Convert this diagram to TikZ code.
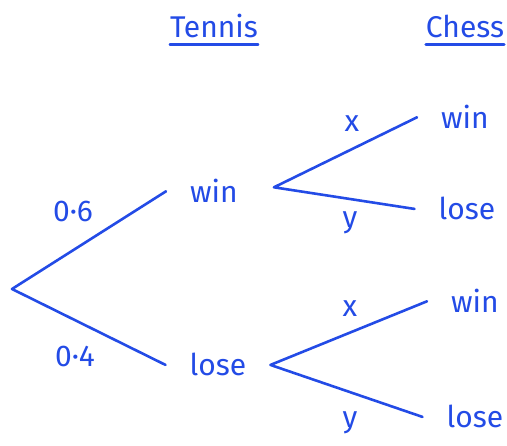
\documentclass[tikz,border=0pt]{standalone}
\usepackage{fontspec}
\setmainfont{Fira Sans}
\definecolor{pen}{RGB}{35,75,230}

\begin{document}
\begin{tikzpicture}[x=1pt,y=-1pt,
    every node/.style={text=pen,font=\fontsize{30}{36}\selectfont},
    heading/.style={anchor=base,inner xsep=0pt,inner ysep=6pt},
    outcome/.style={anchor=base,inner xsep=24pt},
    lbl/.style={anchor=base},
    branch/.style={pen,line width=2.6pt,line cap=round,line join=round}]
    \useasboundingbox (0,0) rectangle (507,446);
    \node[heading] (tennis) at (214,38) {Tennis};
    \node[heading] (chess) at (465,38) {Chess};
    \coordinate (root) at (12,289);
    \node[outcome] (tw) at (214,203) {win};
    \node[outcome] (tl) at (218,376) {lose};
    \coordinate (wfork) at ([xshift=12pt,yshift=4pt]tw.east);
    \node[outcome] (cww) at (465,129) {win};
    \node[outcome] (cwl) at (467,220) {lose};
    \node[outcome] (clw) at (475,313) {win};
    \node[outcome] (cll) at (475,428) {lose};
    \draw[branch] (tennis.south west) -- (tennis.south east);
    \draw[branch] (chess.south west) -- (chess.south east);
    \draw[branch] (tw.west) -- (root) -- (tl.west);
    \draw[branch] (cww.west) -- (wfork) -- (cwl.west);
    \draw[branch] (clw.west) -- (tl.east) -- (cll.west);
    \node[lbl] (p6) at (73,222) {0·6};
    \node[lbl] (p4) at (75,367) {0·4};
    \node[lbl] (wx) at (352,132) {x};
    \node[lbl] (wy) at (350,228) {y};
    \node[lbl] (lx) at (350,317) {x};
    \node[lbl] (ly) at (350,428) {y};
\end{tikzpicture}
\end{document}
